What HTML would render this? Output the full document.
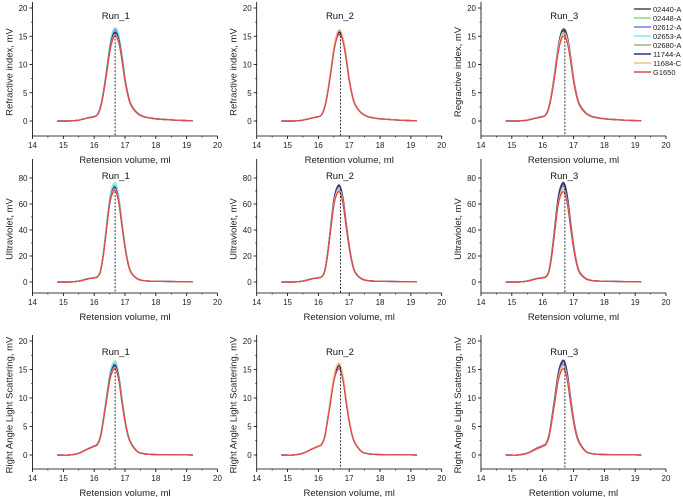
<!DOCTYPE html>
<html><head><meta charset="utf-8">
<style>
html,body{margin:0;padding:0;background:#fff;}
svg{display:block;font-family:"Liberation Sans",Arial,sans-serif;}
</style></head>
<body>
<svg id="chart" width="683" height="497" viewBox="0 0 683 497"></svg>
<script>
// Series names and colours
const seriesNames = ["02440-A","02448-A","02612-A","02653-A","02680-A","11744-A","11684-C","G1650"];
const seriesColors = ["#4a4a4a","#80e080","#7878f0","#80e8e8","#a8b070","#303090","#f0c088","#e04848"];
// x grid of retention volume (ml)
const profX = [14.8,15.2,15.5,15.8,16.0,16.1,16.2,16.3,16.4,16.5,16.6,16.7,16.8,16.9,17.0,17.1,17.2,17.4,17.6,17.8,18.0,18.5,19.0,19.2];
// normalized profiles
const profRI   = [0,0,0.01,0.035,0.05,0.07,0.15,0.32,0.55,0.8,0.96,1.0,0.92,0.72,0.47,0.29,0.18,0.09,0.05,0.035,0.025,0.012,0.005,0.002];
const profUV   = [0,0,0.01,0.035,0.045,0.055,0.11,0.3,0.58,0.85,0.98,1.0,0.87,0.62,0.38,0.2,0.1,0.035,0.015,0.01,0.008,0.005,0.003,0.002];
const profLS   = [0,0,0.02,0.07,0.1,0.12,0.2,0.4,0.63,0.86,0.98,1.0,0.87,0.62,0.39,0.22,0.13,0.04,0.015,0.008,0.005,0.002,0.001,0];
// peak heights per series, per run (rows: detector, cols: run)
const peaksRI = [[15.5,15.9,16.2,16.5,15.3,15.7,15.2,15.0],[16.0,15.6,15.4,15.2,15.8,15.7,16.1,15.3],[16.3,15.5,15.9,15.4,15.6,16.0,15.7,15.0]];
const peaksUV = [[71,74,73,76,70,72,71,70],[73,72,71,70,72,74,71,69],[76,74,73,72,74,75,71,69]];
const peaksLS = [[15.5,16.0,15.8,16.4,15.3,15.6,15.2,15.0],[15.8,15.4,15.6,15.2,15.7,15.5,16.0,15.0],[16.3,15.6,15.9,15.4,15.7,16.5,15.6,15.0]];
const xTicks = [14,15,16,17,18,19,20];
const yTicksSmall = [0,5,10,15,20];
const yTicksUV = [0,20,40,60,80];
const runLabels = ["Run_1","Run_2","Run_3"];
const markerX = [16.68,16.72,16.72];

const svg = document.getElementById('chart');
const NS = 'http://www.w3.org/2000/svg';
function mk(tag, attrs, parent){const e=document.createElementNS(NS,tag);for(const k in attrs)e.setAttribute(k,attrs[k]);(parent||svg).appendChild(e);return e;}
function smoothPath(p){
  let d='M'+p[0][0].toFixed(1)+' '+p[0][1].toFixed(1);
  for(let i=0;i<p.length-1;i++){
    const p0=p[Math.max(0,i-1)],p1=p[i],p2=p[i+1],p3=p[Math.min(p.length-1,i+2)];
    const c1x=p1[0]+(p2[0]-p0[0])/6,c1y=p1[1]+(p2[1]-p0[1])/6;
    const c2x=p2[0]-(p3[0]-p1[0])/6,c2y=p2[1]-(p3[1]-p1[1])/6;
    d+=`C${c1x.toFixed(1)} ${c1y.toFixed(1)} ${c2x.toFixed(1)} ${c2y.toFixed(1)} ${p2[0].toFixed(1)} ${p2[1].toFixed(1)}`;
  }
  return d;
}

const colLeft = [32.5,256.7,481];
const colW = 185;
const rows = [
  {zero:121, axisY:136, unitPx:113/20, top:8, ticks:yTicksSmall, prof:profRI, peaks:peaksRI,
   ylab:["Refractive index, mV","Refractive index, mV","Regractive index, mV"],
   xlab:["Retension volume, ml","Retention volume, ml","Retension volume, ml"], runY:19},
  {zero:282, axisY:293, unitPx:104/80, top:165, ticks:yTicksUV, prof:profUV, peaks:peaksUV,
   ylab:["Ultraviolet, mV","Ultraviolet, mV","Ultraviolet, mV"],
   xlab:["Retension volume, ml","Retension volume, ml","Retension volume, ml"], runY:179},
  {zero:455, axisY:469, unitPx:114/20, top:341, ticks:yTicksSmall, prof:profLS, peaks:peaksLS,
   ylab:["Right Angle Light Scattering, mV","Right Angle Light Scattering, mV","Right Angle Light Scattering, mV"],
   xlab:["Retension volume, ml","Retension volume, ml","Retention volume, ml"], runY:355}
];

rows.forEach((r,ri)=>{
  colLeft.forEach((L,ci)=>{
    const g = mk('g',{});
    
    
    const xs = v => L + (v-14)/6*colW;
    const ys = v => r.zero - v*r.unitPx;
    const ax = mk('path',{d:`M${L} ${r.top-6}V${r.axisY}H${L+colW}`,stroke:'#000','stroke-width':0.8,fill:'none'},g);
    
    
    xTicks.forEach(t=>{
      mk('line',{x1:xs(t),x2:xs(t),y1:r.axisY,y2:r.axisY+3,stroke:'#000','stroke-width':0.8},g);
      if(t<20) mk('line',{x1:xs(t+0.5),x2:xs(t+0.5),y1:r.axisY,y2:r.axisY+1.5,stroke:'#000','stroke-width':0.6},g);
      const tx = mk('text',{x:xs(t),y:r.axisY+12,'font-size':8,'text-anchor':'middle',fill:'#222'},g);
      tx.textContent=t;
      
      
    });
    r.ticks.forEach((t,i)=>{
      mk('line',{x1:L-3,x2:L,y1:ys(t),y2:ys(t),stroke:'#000','stroke-width':0.8},g);
      if(i<r.ticks.length-1){const h=(t+r.ticks[i+1])/2;mk('line',{x1:L-1.5,x2:L,y1:ys(h),y2:ys(h),stroke:'#000','stroke-width':0.6},g);}
      const ty = mk('text',{x:L-5,y:ys(t)+3,'font-size':8,'text-anchor':'end',fill:'#222'},g);
      ty.textContent=t;
      
      
    });
    const xt = mk('text',{x:L+colW/2,y:r.axisY+27,'font-size':9.5,'text-anchor':'middle',fill:'#222'},g);
    xt.textContent=r.xlab[ci];
    
    
    const yc=(r.top+r.axisY)/2, yx=L-20;
    const yt = mk('text',{x:yx,y:yc,'font-size':9.5,'text-anchor':'middle',fill:'#222',transform:`rotate(-90 ${yx} ${yc})`},g);
    yt.textContent=r.ylab[ci];
    
    
    seriesNames.forEach((n,si)=>{
      const pk = r.peaks[ci][si];
      const pts = profX.map((x,k)=>[xs(x), ys(r.prof[k]*pk)]);
      const pl = mk('path',{d:smoothPath(pts),fill:'none',stroke:seriesColors[si],'stroke-width':1.3,'stroke-linejoin':'round'},g);
      
      
    });
    const dl = mk('line',{x1:xs(markerX[ci]),x2:xs(markerX[ci]),y1:ys(r.peaks[ci][0]*0.98),y2:r.axisY,stroke:'#222','stroke-width':0.9,'stroke-dasharray':'2,1.5'},g);
    
    
    const rt = mk('text',{x:xs(16.7),y:r.runY,'font-size':9.5,'text-anchor':'middle',fill:'#111'},g);
    rt.textContent=runLabels[ci];
    
    
  });
});

const lg = mk('g',{});


seriesNames.forEach((n,i)=>{
  const y = 9 + i*9;
  mk('line',{x1:634,x2:651,y1:y,y2:y,stroke:seriesColors[i],'stroke-width':1.5},lg);
  const t = mk('text',{x:653,y:y+3,'font-size':7.5,fill:'#222'},lg);
  t.textContent=n;
  
  
});
</script>
</body></html>
